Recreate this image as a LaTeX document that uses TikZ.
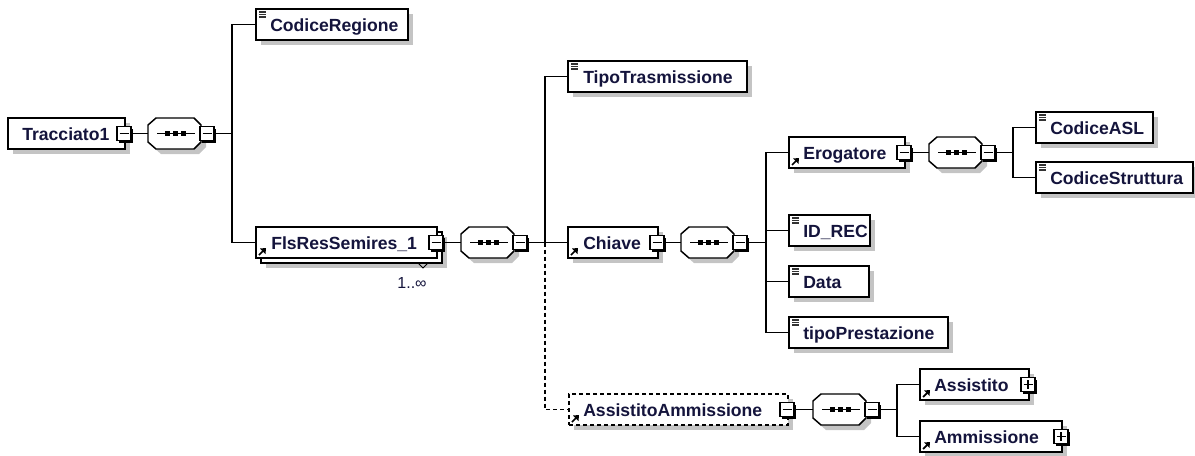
\documentclass[tikz,border=0pt]{standalone}
\usepackage{fontspec}
\setmainfont{Liberation Sans}
\usetikzlibrary{shadows,calc}
\definecolor{shgray}{HTML}{C4C4C4}
\definecolor{txt}{HTML}{14143C}
\tikzset{
  boxns/.style={draw=black, line width=1.1pt, fill=white, rectangle, anchor=north west,
    inner sep=0pt, outer sep=0pt, minimum height=23.25pt},
  box/.style={boxns, drop shadow={shadow xshift=3.75pt, shadow yshift=-3.75pt, fill=shgray, opacity=1}},
  bwid/.style={minimum width=#1*0.75pt},
  lbl/.style={anchor=base west, inner sep=0pt, font=\bfseries\fontsize{13.2pt}{15pt}\selectfont, text=txt},
  btn/.style={draw=black, line width=0.8pt, fill=white, rectangle, anchor=north west,
    minimum size=10.5pt, inner sep=0pt, outer sep=0pt,
    drop shadow={shadow xshift=1.6pt, shadow yshift=-1.6pt, fill=black, opacity=1}},
  seqn/.style={rectangle, anchor=north west, minimum width=39.75pt, minimum height=23.25pt,
    inner sep=0pt, outer sep=0pt, draw=none},
  conn/.style={line width=1.05pt, black},
  dconn/.style={conn, dash pattern=on 3pt off 2.25pt},
}
\newcommand\xsimpleico[1]{\foreach \k in {3,5.5,8}{\draw[line width=0.8pt,black!80] ($(#1.north west)+(3,\k)$) -- ++(7,0);}}
\newcommand\xrefico[1]{\draw[line width=1.3pt] ($(#1.south west)+(3,-3)$) -- ++(4.5,-4.5);
  \fill ($(#1.south west)+(10,-10)$) -- ++(-6,0.5) -- ++(5.5,5.5) -- cycle;}
\newcommand\xminus[2]{\node[btn] (#1) at ($(#2.north east)+(-8,8.5)$) {};
  \draw[line width=0.8pt] ($(#1.west)+(2.5,0)$) -- ($(#1.east)+(-2.5,0)$);}
\newcommand\xplus[2]{\xminus{#1}{#2}
  \draw[line width=0.8pt] ($(#1.north)+(0,2.5)$) -- ($(#1.south)+(0,-2.5)$);}
\newcommand\xseq[3]{%
  \node[seqn] (#1) at (#2,#3) {};
  \fill[shgray] (#2+13,#3+5) -- (#2+51,#3+5) -- (#2+58,#3+12) -- (#2+58,#3+29) -- (#2+51,#3+36) -- (#2+13,#3+36) -- (#2+5,#3+29) -- (#2+5,#3+12) -- cycle;
  \draw[line width=1.1pt, fill=white] (#2+8,#3) -- (#2+46,#3) -- (#2+53,#3+7) -- (#2+53,#3+24) -- (#2+46,#3+31) -- (#2+8,#3+31) -- (#2,#3+24) -- (#2,#3+7) -- cycle;
  \draw[line width=1pt] (#2+9,#3+15.5) -- (#2+47,#3+15.5);
  \foreach \q in {19,27,35} {\fill (#2+\q-2.5,#3+13) rectangle ++(5,5);}
  \node[btn] (#1-b) at (#2+52,#3+8.5) {};
  \draw[line width=0.8pt] ($(#1-b.west)+(2.5,0)$) -- ($(#1-b.east)+(-2.5,0)$);}
\begin{document}
\begin{tikzpicture}[x=0.75pt,y=-0.75pt]
\useasboundingbox (0,0) rectangle (1195,455);

% Tracciato1
\node[box,bwid=117] (tr) at (8,118) {};
\node[lbl] (tr-t) at ($(tr.west)+(14,6.5)$) {Tracciato1};
\xminus{tr-b}{tr}
\xseq{s1}{148}{118}

% CodiceRegione
\node[box,bwid=152] (cr) at (256,9) {};
\xsimpleico{cr}
\node[lbl] (cr-t) at ($(cr.west)+(14,6.5)$) {CodiceRegione};

% FlsResSemires_1
\node[box,bwid=181] (flsb) at (261,232) {};
\node[boxns,bwid=181] (fls) at (256,227) {};
\xrefico{fls}
\node[lbl] (fls-t) at ($(fls.west)+(15,6.5)$) {FlsResSemires\_1};
\xminus{fls-b}{fls}
\draw[line width=0.7pt] ($(flsb.south east)+(-24,0)$) -- ++(5,5) -- ++(5,-5);
\node[anchor=center, inner sep=0pt, font=\fontsize{12pt}{14pt}\selectfont, text=txt] (mult) at (412,283) {1..∞};
\xseq{s2}{461}{227}

% TipoTrasmissione, Chiave
\node[box,bwid=179] (tipo) at (568,61) {};
\xsimpleico{tipo}
\node[lbl] (tipo-t) at ($(tipo.west)+(15,6.5)$) {TipoTrasmissione};
\node[box,bwid=90] (chiave) at (568,227) {};
\xrefico{chiave}
\node[lbl] (chiave-t) at ($(chiave.west)+(15,6.5)$) {Chiave};
\xminus{chiave-b}{chiave}
\xseq{s3}{681}{227}

% Erogatore branch
\node[box,bwid=116] (erog) at (789,137) {};
\xrefico{erog}
\node[lbl] (erog-t) at ($(erog.west)+(14,6.5)$) {Erogatore};
\xminus{erog-b}{erog}
\xseq{s4}{929}{137}
\node[box,bwid=117] (asl) at (1036,112) {};
\xsimpleico{asl}
\node[lbl] (asl-t) at ($(asl.west)+(14,6.5)$) {CodiceASL};
\node[box,bwid=157] (strut) at (1036,162) {};
\xsimpleico{strut}
\node[lbl] (strut-t) at ($(strut.west)+(14,6.5)$) {CodiceStruttura};

\node[box,bwid=81] (idrec) at (789,215) {};
\xsimpleico{idrec}
\node[lbl] (idrec-t) at ($(idrec.west)+(14,6.5)$) {ID\_REC};
\node[box,bwid=80] (data) at (789,266) {};
\xsimpleico{data}
\node[lbl] (data-t) at ($(data.west)+(14,6.5)$) {Data};
\node[box,bwid=159] (tipop) at (789,317) {};
\xsimpleico{tipop}
\node[lbl] (tipop-t) at ($(tipop.west)+(14,6.5)$) {tipoPrestazione};

% AssistitoAmmissione
\node[box,bwid=219,dash pattern=on 3pt off 2.25pt] (aa) at (569,394) {};
\xrefico{aa}
\node[lbl] (aa-t) at ($(aa.west)+(14,6.5)$) {AssistitoAmmissione};
\xminus{aa-b}{aa}
\xseq{s5}{813}{394}
\node[box,bwid=109] (ass) at (920,369) {};
\xrefico{ass}
\node[lbl] (ass-t) at ($(ass.west)+(14,6.5)$) {Assistito};
\xplus{ass-b}{ass}
\node[box,bwid=142] (amm) at (920,421) {};
\xrefico{amm}
\node[lbl] (amm-t) at ($(amm.west)+(14,6.5)$) {Ammissione};
\xplus{amm-b}{amm}

% connectors
\coordinate (j1) at (232,133.5);
\coordinate (j2) at (545,242.5);
\coordinate (j3) at (766,242.5);
\coordinate (j4) at (1013,152.5);
\coordinate (j5) at (897,409.5);

\draw[conn] (tr-b.east) -- (s1.west);
\draw[conn] (s1-b.east) -- (j1);
\draw[conn] (cr.west) -| (j1) |- (fls.west);

\draw[conn] (fls-b.east) -- (s2.west);
\draw[conn] (s2-b.east) -- (j2) -- (chiave.west);
\draw[conn] (tipo.west) -| (j2);
\draw[dconn] (j2) |- (aa.west);

\draw[conn] (chiave-b.east) -- (s3.west);
\draw[conn] (s3-b.east) -- (j3);
\draw[conn] (erog.west) -| (j3) |- (tipop.west);
\draw[conn] (idrec.west) -| (j3);
\draw[conn] (data.west) -| (j3);

\draw[conn] (erog-b.east) -- (s4.west);
\draw[conn] (s4-b.east) -- (j4);
\draw[conn] (asl.west) -| (j4) |- (strut.west);

\draw[conn] (aa-b.east) -- (s5.west);
\draw[conn] (s5-b.east) -- (j5);
\draw[conn] (ass.west) -| (j5) |- (amm.west);
\end{tikzpicture}
\end{document}
